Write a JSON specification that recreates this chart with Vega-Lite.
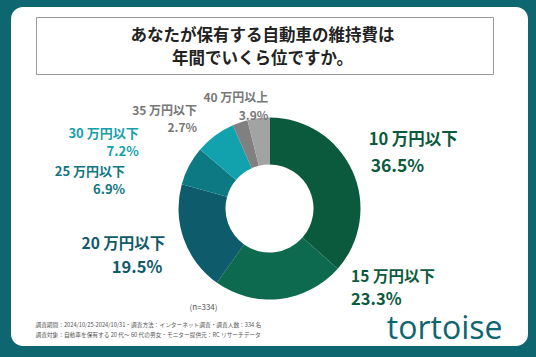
{
  "$schema": "https://vega.github.io/schema/vega-lite/v6.json",
  "width": 536,
  "height": 357,
  "autosize": {"type": "fit", "contains": "padding"},
  "padding": {"left": 8, "right": 8, "top": 7, "bottom": 8},
  "background": "#0d6670",
  "title": {
    "text": ["あなたが保有する自動車の維持費は", "年間でいくら位ですか。"],
    "anchor": "middle",
    "frame": "group",
    "offset": -60,
    "dx": -7,
    "font": "Noto Sans CJK JP",
    "fontSize": 16.5,
    "fontWeight": "bold",
    "color": "#222222",
    "lineHeight": 23
  },
  "data": {
    "values": [
      {"cat": "10 万円以下", "pct": 36.5, "ord": 1},
      {"cat": "15 万円以下", "pct": 23.3, "ord": 2},
      {"cat": "20 万円以下", "pct": 19.5, "ord": 3},
      {"cat": "25 万円以下", "pct": 6.9, "ord": 4},
      {"cat": "30 万円以下", "pct": 7.2, "ord": 5},
      {"cat": "35 万円以下", "pct": 2.7, "ord": 6},
      {"cat": "40 万円以上", "pct": 3.9, "ord": 7}
    ]
  },
  "transform": [
    {"stack": "pct", "groupby": [], "sort": [{"field": "ord", "order": "ascending"}], "as": ["s0", "s1"]},
    {"calculate": "(datum.s0 + datum.s1) / 2", "as": "mid"},
    {"calculate": "format(datum.pct, '.1f') + '%'", "as": "pctText"},
    {"calculate": "datum.cat + '\\n' + datum.pctText", "as": "label2"}
  ],
  "layer": [
    {
      "mark": {"type": "arc", "innerRadius": 44, "outerRadius": 91, "y": {"expr": "height/2 + 32"}},
      "encoding": {
        "theta": {"field": "s0", "type": "quantitative", "scale": {"domain": [0, 100]}},
        "theta2": {"field": "s1"},
        "color": {
          "field": "cat", "type": "nominal", "legend": null,
          "scale": {
            "domain": ["10 万円以下", "15 万円以下", "20 万円以下", "25 万円以下", "30 万円以下", "35 万円以下", "40 万円以上"],
            "range": ["#0b5a3e", "#0d6a4e", "#0e5b6b", "#0d7a83", "#12a2ad", "#808080", "#a3a3a3"]
          }
        }
      }
    },
    {
      "transform": [{"filter": "datum.ord == 1"}],
      "mark": {"type": "text", "radius": 100, "y": {"expr": "height/2 + 32"}, "align": "left", "baseline": "alphabetic", "dx": 8, "dy": -22, "font": "Noto Sans CJK JP", "fontWeight": "bold", "fontSize": 16.5, "color": "#0b5a3e"},
      "encoding": {"theta": {"field": "mid", "type": "quantitative", "stack": null, "scale": {"domain": [0, 100]}}, "text": {"field": "cat"}}
    },
    {
      "transform": [{"filter": "datum.ord == 1"}],
      "mark": {"type": "text", "radius": 100, "y": {"expr": "height/2 + 32"}, "align": "left", "baseline": "alphabetic", "dx": 10, "dy": 5, "font": "Noto Sans CJK JP", "fontWeight": "bold", "fontSize": 17.5, "color": "#0b5a3e"},
      "encoding": {"theta": {"field": "mid", "type": "quantitative", "stack": null, "scale": {"domain": [0, 100]}}, "text": {"field": "pctText"}}
    },
    {
      "transform": [{"filter": "datum.ord == 2"}],
      "mark": {"type": "text", "radius": 100, "y": {"expr": "height/2 + 32"}, "align": "left", "baseline": "alphabetic", "dx": 70, "dy": -26, "font": "Noto Sans CJK JP", "fontWeight": "bold", "fontSize": 15.5, "color": "#0b5a3e"},
      "encoding": {"theta": {"field": "mid", "type": "quantitative", "stack": null, "scale": {"domain": [0, 100]}}, "text": {"field": "cat"}}
    },
    {
      "transform": [{"filter": "datum.ord == 2"}],
      "mark": {"type": "text", "radius": 100, "y": {"expr": "height/2 + 32"}, "align": "left", "baseline": "alphabetic", "dx": 70, "dy": -3, "font": "Noto Sans CJK JP", "fontWeight": "bold", "fontSize": 16.5, "color": "#0b5a3e"},
      "encoding": {"theta": {"field": "mid", "type": "quantitative", "stack": null, "scale": {"domain": [0, 100]}}, "text": {"field": "pctText"}}
    },
    {
      "transform": [{"filter": "datum.ord == 3"}],
      "mark": {"type": "text", "radius": 100, "y": {"expr": "height/2 + 32"}, "align": "right", "baseline": "alphabetic", "dx": -10, "dy": 7, "font": "Noto Sans CJK JP", "fontWeight": "bold", "fontSize": 15.5, "color": "#115a6a"},
      "encoding": {"theta": {"field": "mid", "type": "quantitative", "stack": null, "scale": {"domain": [0, 100]}}, "text": {"field": "cat"}}
    },
    {
      "transform": [{"filter": "datum.ord == 3"}],
      "mark": {"type": "text", "radius": 100, "y": {"expr": "height/2 + 32"}, "align": "right", "baseline": "alphabetic", "dx": -13, "dy": 31, "font": "Noto Sans CJK JP", "fontWeight": "bold", "fontSize": 16.5, "color": "#115a6a"},
      "encoding": {"theta": {"field": "mid", "type": "quantitative", "stack": null, "scale": {"domain": [0, 100]}}, "text": {"field": "pctText"}}
    },
    {
      "transform": [{"filter": "datum.ord == 4"}],
      "mark": {"type": "text", "radius": 100, "y": {"expr": "height/2 + 32"}, "align": "right", "baseline": "alphabetic", "lineBreak": "\n", "lineHeight": 18, "dx": -56, "dy": 14, "font": "Noto Sans CJK JP", "fontWeight": "bold", "fontSize": 13, "color": "#117680"},
      "encoding": {"theta": {"field": "mid", "type": "quantitative", "stack": null, "scale": {"domain": [0, 100]}}, "text": {"field": "label2"}}
    },
    {
      "transform": [{"filter": "datum.ord == 5"}],
      "mark": {"type": "text", "radius": 100, "y": {"expr": "height/2 + 32"}, "align": "right", "baseline": "alphabetic", "lineBreak": "\n", "lineHeight": 18, "dx": -71, "dy": 10, "font": "Noto Sans CJK JP", "fontWeight": "bold", "fontSize": 13, "color": "#14a0aa"},
      "encoding": {"theta": {"field": "mid", "type": "quantitative", "stack": null, "scale": {"domain": [0, 100]}}, "text": {"field": "label2"}}
    },
    {
      "transform": [{"filter": "datum.ord == 6"}],
      "mark": {"type": "text", "radius": 100, "y": {"expr": "height/2 + 32"}, "align": "right", "baseline": "alphabetic", "lineBreak": "\n", "lineHeight": 17.5, "dx": -40, "dy": 1, "font": "Noto Sans CJK JP", "fontWeight": "bold", "fontSize": 12, "color": "#777777"},
      "encoding": {"theta": {"field": "mid", "type": "quantitative", "stack": null, "scale": {"domain": [0, 100]}}, "text": {"field": "label2"}}
    },
    {
      "transform": [{"filter": "datum.ord == 7"}],
      "mark": {"type": "text", "radius": 100, "y": {"expr": "height/2 + 32"}, "align": "right", "baseline": "alphabetic", "lineBreak": "\n", "lineHeight": 17.5, "dx": 11, "dy": -7, "font": "Noto Sans CJK JP", "fontWeight": "bold", "fontSize": 12, "color": "#777777"},
      "encoding": {"theta": {"field": "mid", "type": "quantitative", "stack": null, "scale": {"domain": [0, 100]}}, "text": {"field": "label2"}}
    },
    {
      "transform": [{"filter": "datum.ord == 1"}],
      "mark": {"type": "text", "y": {"expr": "height/2 + 32"}, "align": "center", "baseline": "middle", "dx": -66, "dy": 99, "font": "Noto Sans CJK JP", "fontSize": 8, "color": "#555555"},
      "encoding": {"text": {"value": "(n=334)"}}
    },
    {
      "mark": {"type": "point", "opacity": 0},
      "encoding": {
        "fill": {
          "field": "pct", "type": "quantitative",
          "scale": {"range": ["#ffffff", "#ffffff"]},
          "legend": {
            "orient": "none", "legendX": 25, "legendY": 10, "direction": "horizontal",
            "title": null, "gradientLength": 401, "gradientThickness": 1, "gradientStrokeWidth": 0,
            "padding": 28, "strokeColor": "#9a9a9a", "fillColor": null, "cornerRadius": 0,
            "labelFontSize": 0, "labelOpacity": 0, "labelOffset": 0, "labelExpr": "''"
          }
        },
        "x": {
          "datum": 0, "type": "quantitative", "scale": {"domain": [0, 1]},
          "axis": {
            "orient": "bottom", "domain": false, "ticks": false, "labels": false, "grid": false,
            "title": ["調査期間：2024/10/25-2024/10/31・調査方法：インターネット調査・調査人数：334 名", "調査対象：自動車を保有する 20 代～ 60 代の男女・モニター提供元：RC リサーチデータ"],
            "titleFont": "Noto Sans CJK JP", "titleFontSize": 5.7, "titleFontWeight": "normal", "titleColor": "#555555",
            "titleAlign": "left", "titleAnchor": "start", "titleBaseline": "alphabetic", "titleX": 24, "titleY": -20, "titleLineHeight": 10
          }
        },
        "y": {
          "datum": 0, "type": "quantitative", "scale": {"domain": [0, 1]},
          "axis": {
            "orient": "right", "domain": false, "ticks": false, "labels": false, "grid": false,
            "title": "tortoise", "titleAngle": 0, "titleFont": "Open Sans", "titleFontSize": 32, "titleFontWeight": "normal",
            "titleColor": "#0e6670", "titleAlign": "right", "titleBaseline": "alphabetic", "titleX": -26, "titleY": 331
          }
        }
      }
    }
  ],
  "config": {
    "view": {"fill": "white", "stroke": null, "cornerRadius": 12}
  }
}
